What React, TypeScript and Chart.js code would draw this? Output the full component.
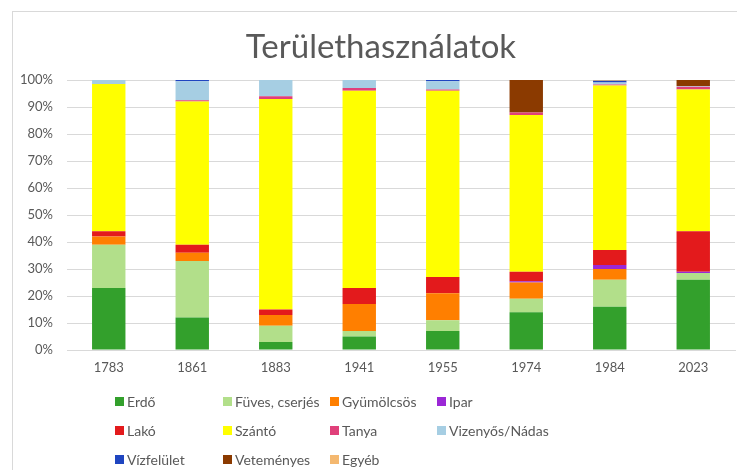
import React, { useEffect, useRef } from "react";
import { Chart, registerables } from "chart.js";

Chart.register(...registerables);

const years = ["1783", "1861", "1883", "1941", "1955", "1974", "1984", "2023"];

const seriesNames = [
  "Erdő",
  "Füves, cserjés",
  "Gyümölcsös",
  "Ipar",
  "Lakó",
  "Szántó",
  "Tanya",
  "Vizenyős/Nádas",
  "Vízfelület",
  "Veteményes",
  "Egyéb",
];

const seriesColors = [
  "#33a02c",
  "#b2df8a",
  "#ff7f00",
  "#9b27d6",
  "#e31a1c",
  "#ffff00",
  "#e0407a",
  "#a6cee3",
  "#1f45c0",
  "#8b3a00",
  "#f4b870",
];

const erdo = [23, 12, 3, 5, 7, 14, 16, 26];
const fuves = [16, 21, 6, 2, 4, 5, 10, 2.5];
const gyumolcsos = [3, 3, 4, 10, 10, 6, 4, 0];
const ipar = [0, 0, 0, 0, 0, 0.5, 1.5, 0.5];
const lako = [2, 3, 2, 6, 6, 3.5, 5.5, 15];
const szanto = [54.5, 53, 78, 73, 69, 58, 61, 52.5];
const tanya = [0, 0.5, 1, 1, 0.5, 1, 0.3, 1];
const vizenyos = [1.5, 7, 6, 3, 3, 0, 0.8, 0.3];
const vizfelulet = [0, 0.5, 0, 0, 0.5, 0, 0.6, 0];
const vetemenyes = [0, 0, 0, 0, 0, 12, 0, 2.2];
const egyeb = [0, 0, 0, 0, 0, 0, 0.3, 0];

const seriesValues = [
  erdo,
  fuves,
  gyumolcsos,
  ipar,
  lako,
  szanto,
  tanya,
  vizenyos,
  vizfelulet,
  vetemenyes,
  egyeb,
];

const yTicks = [0, 10, 20, 30, 40, 50, 60, 70, 80, 90, 100];

const titleText = "Területhasználatok";

const FONT = "Lato, 'Open Sans', sans-serif";
const TEXT = "#595959";

export default function App() {
  const canvasRef = useRef<HTMLCanvasElement | null>(null);

  useEffect(() => {
    const canvas = canvasRef.current;
    if (!canvas) return;
    const chart = new Chart(canvas, {
      type: "bar",
      data: {
        labels: years,
        datasets: seriesNames.map((name, i) => ({
          label: name,
          data: seriesValues[i],
          backgroundColor: seriesColors[i],
          borderWidth: 0,
          barPercentage: 0.4,
          categoryPercentage: 1,
        })),
      },
      options: {
        responsive: false,
        animation: false,
        devicePixelRatio: 1,
        layout: { padding: { top: 80, left: 0, right: 2, bottom: 94 } },
        plugins: {
          legend: { display: false },
          tooltip: { enabled: false },
          title: { display: false },
        },
        scales: {
          x: {
            stacked: true,
            grid: { display: false, drawTicks: false },
            border: { display: true, color: "#d9d9d9" },
            ticks: { color: TEXT, font: { family: FONT, size: 13 }, padding: 10 },
            afterFit: (s: any) => {
              s.height = 26;
            },
          },
          y: {
            stacked: true,
            min: 0,
            max: 100,
            grid: { color: "#d9d9d9", drawTicks: false },
            border: { display: false },
            afterBuildTicks: (s: any) => {
              s.ticks = yTicks.map((v) => ({ value: v }));
            },
            ticks: {
              color: TEXT,
              font: { family: FONT, size: 13 },
              padding: 14,
              callback: (v: any) => v + "%",
            },
            afterFit: (s: any) => {
              s.width = 67;
            },
          },
        },
      },
    });
    return () => chart.destroy();
  }, []);

  const colX = [115, 223, 330, 437];
  const rowY = [401, 430, 459];

  return (
    <div
      style={{
        position: "absolute",
        left: 0,
        top: 0,
        width: 737,
        height: 470,
        background: "#fff",
        overflow: "hidden",
      }}
    >
      <div
        style={{
          position: "absolute",
          left: 12,
          top: 11,
          width: 800,
          height: 600,
          borderLeft: "1px solid #d9d9d9",
          borderTop: "1px solid #d9d9d9",
        }}
      />
      <canvas
        ref={canvasRef}
        width={737}
        height={470}
        style={{ position: "absolute", left: 0, top: 0, width: 737, height: 470 }}
      />
      <div
        style={{
          position: "absolute",
          left: 0,
          top: 25,
          width: 762,
          height: 40,
          lineHeight: "40px",
          textAlign: "center",
          fontFamily: FONT,
          fontSize: 33,
          color: TEXT,
          whiteSpace: "nowrap",
        }}
      >
        {titleText}
      </div>
      {seriesNames.map((name, i) => {
        const col = i % 4;
        const row = Math.floor(i / 4);
        return (
          <div
            key={name}
            style={{
              position: "absolute",
              left: colX[col],
              top: rowY[row] - 10,
              height: 20,
              display: "flex",
              alignItems: "center",
              fontFamily: FONT,
              fontSize: 14,
              color: TEXT,
              whiteSpace: "nowrap",
            }}
          >
            <span
              style={{
                display: "inline-block",
                width: 9,
                height: 9,
                background: seriesColors[i],
                marginRight: 3,
              }}
            />
            <span>{name}</span>
          </div>
        );
      })}
    </div>
  );
}
